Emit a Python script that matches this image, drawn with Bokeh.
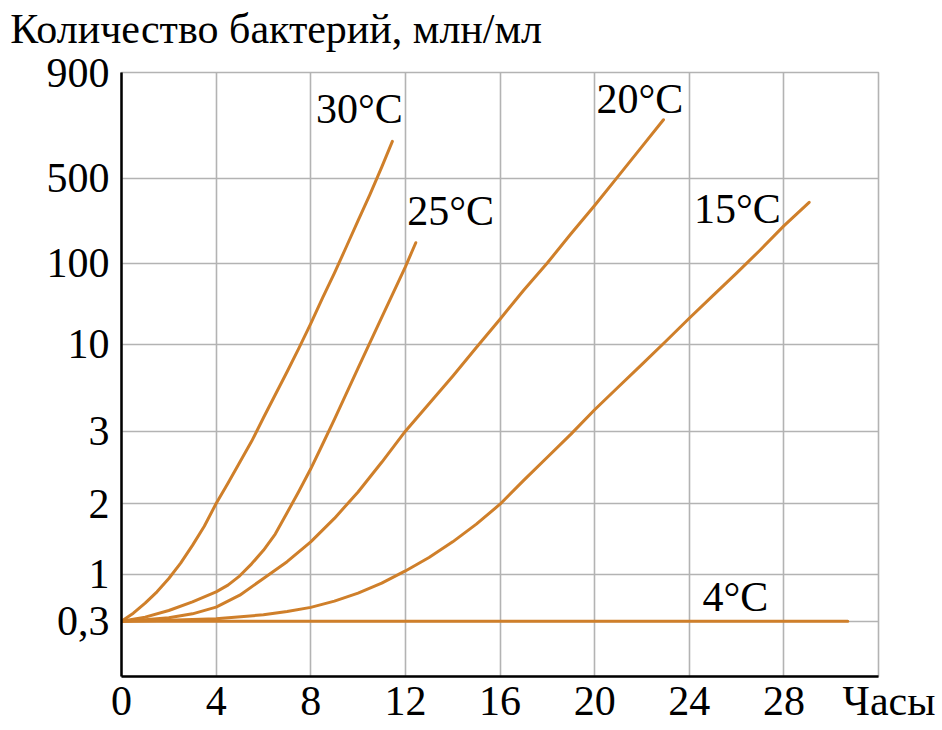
import numpy as np
from bokeh.plotting import figure
from bokeh.models import FixedTicker, Range1d, ColumnDataSource, LinearAxis
from bokeh.core.properties import value
from bokeh.embed import file_html
from bokeh.resources import INLINE

# ---------------- data ----------------
TITLE = "Количество бактерий, млн/мл"
X_LABEL = "Часы"
X_TICKS = [0, 4, 8, 12, 16, 20, 24, 28]
X_END = 32
Y_TICK_VALUES = [0.3, 1, 2, 3, 10, 100, 500, 900]
Y_TICK_LABELS = ["0,3", "1", "2", "3", "10", "100", "500", "900"]

HOURS_30 = [0, 0.5, 1, 1.5, 2, 2.5, 3, 3.5, 4, 4.5, 5, 5.5, 6, 7, 7.5, 8, 8.5, 9, 9.5, 10, 10.5, 11, 11.45]
COUNT_30 = [0.3, 0.42, 0.57, 0.74, 0.94, 1.16, 1.41, 1.68, 2.0, 2.28, 2.57, 2.86, 4.09, 7.8, 9.7,
            33, 61.5, 89, 176, 300, 422, 541, 639]

HOURS_25 = [0, 1, 2, 3, 4, 4.5, 5, 5.5, 6, 6.5, 7, 7.5, 8, 8.5, 9, 10, 11, 12, 12.44]
COUNT_25 = [0.3, 0.36, 0.46, 0.59, 0.74, 0.84, 0.98, 1.15, 1.34, 1.57, 1.87, 2.17, 2.48, 2.82,
            3.95, 8.1, 40, 96, 196]

HOURS_20 = [0, 1, 2, 3, 4, 5, 6, 7, 8, 9, 10, 11, 12, 13, 14, 15, 16, 17, 18, 19, 20, 21, 22, 22.91]
COUNT_20 = [0.3, 0.32, 0.35, 0.41, 0.51, 0.69, 0.94, 1.18, 1.46, 1.79, 2.16, 2.57, 3.0,
            5.22, 7.44, 9.75, 38, 70, 101, 238, 371, 507, 619, 721]

HOURS_15 = [0, 2, 4, 6, 7, 8, 9, 10, 11, 12, 13, 14, 15, 16, 17, 18, 19, 20, 21, 22, 23, 24,
            25, 26, 27, 28, 29.07]
COUNT_15 = [0.3, 0.315, 0.336, 0.396, 0.444, 0.507, 0.60, 0.72, 0.87, 1.05, 1.24, 1.46, 1.71,
            1.99, 2.32, 2.64, 2.96, 4.73, 6.57, 8.40, 13.3, 39, 64, 89, 162, 275, 386]

HOURS_4 = [0, 30.7]
COUNT_4 = [0.3, 0.3]

SERIES = [
    ("30°C", HOURS_30, COUNT_30),
    ("25°C", HOURS_25, COUNT_25),
    ("20°C", HOURS_20, COUNT_20),
    ("15°C", HOURS_15, COUNT_15),
    ("4°C", HOURS_4, COUNT_4),
]

# ---------------- layout / style ----------------
# position of each tick value along the (non-uniform) vertical scale, 0 = bottom, 1 = top
Y_TICK_FRAC = [0.0916, 0.1689, 0.2864, 0.4061, 0.5497, 0.6843, 0.8253, 1.0]
# where each curve label sits (left edge hour, vertical middle as count)
LABEL_AT = {"30°C": (8.22, 760), "25°C": (12.08, 346), "20°C": (20.08, 800),
            "15°C": (24.2, 353), "4°C": (24.56, 0.655)}
TITLE_CENTER_HOUR = 6.54   # horizontal centre of the heading above the frame

FONT = "Liberation Serif"
FS = "42px"
CURVE = "#cf7f2a"
GRID = "#b3b3b3"


def to_axis(v):
    return np.interp(np.asarray(v, dtype=float), Y_TICK_VALUES, Y_TICK_FRAC)


def plain_axis(ax):
    ax.major_tick_line_color = None
    ax.major_tick_out = 0
    ax.major_tick_in = 0
    ax.minor_tick_line_color = None
    ax.minor_tick_out = 0
    ax.minor_tick_in = 0
    ax.major_label_text_font = FONT
    ax.major_label_text_font_size = FS
    ax.major_label_text_color = "black"


p = figure(width=942, height=730, output_backend="svg", toolbar_location=None,
           x_range=Range1d(0, X_END), y_range=Range1d(0, 1),
           min_border_left=121, min_border_right=64, min_border_top=72, min_border_bottom=54)
p.background_fill_color = "white"
p.border_fill_color = "white"
p.outline_line_color = GRID
p.outline_line_width = 1.6

bottom_axis = p.below[0]
left_axis = p.left[0]

bottom_axis.ticker = FixedTicker(ticks=X_TICKS + [X_END])
bottom_axis.major_label_overrides = {X_END: "\u00a0\u00a0" + X_LABEL}
left_axis.ticker = FixedTicker(ticks=Y_TICK_FRAC)
left_axis.major_label_overrides = {f: l for f, l in zip(Y_TICK_FRAC, Y_TICK_LABELS)}
for ax in (bottom_axis, left_axis):
    plain_axis(ax)
    ax.axis_line_color = "black"
    ax.axis_line_width = 2.5
left_axis.major_label_standoff = 12
bottom_axis.major_label_standoff = 1

# heading: a single label on an invisible top axis
top_axis = LinearAxis(ticker=FixedTicker(ticks=[TITLE_CENTER_HOUR]),
                      major_label_overrides={TITLE_CENTER_HOUR: TITLE})
plain_axis(top_axis)
top_axis.axis_line_color = None
top_axis.major_label_standoff = 21
p.add_layout(top_axis, "above")

p.xgrid.ticker = FixedTicker(ticks=X_TICKS)
p.ygrid.ticker = FixedTicker(ticks=Y_TICK_FRAC)
for g in (p.xgrid, p.ygrid):
    g.grid_line_color = GRID
    g.grid_line_width = 1.6

for name, hrs, cnt in SERIES:
    src = ColumnDataSource(dict(x=hrs, y=to_axis(cnt)))
    p.line("x", "y", source=src, line_color=CURVE, line_width=3, line_join="round", line_cap="round")

lab_src = ColumnDataSource(dict(
    x=[LABEL_AT[n][0] for n, _, _ in SERIES],
    y=to_axis([LABEL_AT[n][1] for n, _, _ in SERIES]),
    t=[n for n, _, _ in SERIES]))
p.text("x", "y", text="t", source=lab_src, text_font=value(FONT), text_font_size=FS,
       text_color="black", text_baseline="middle", text_align="left")

open("out.html", "w").write(file_html(p, INLINE))
